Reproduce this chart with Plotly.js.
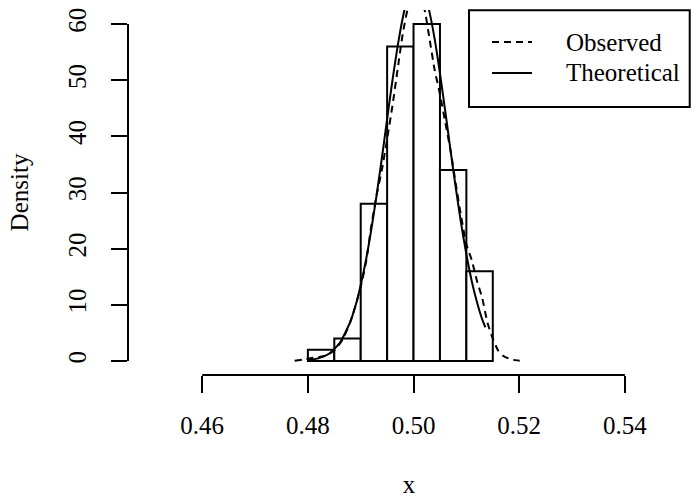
<!DOCTYPE html>
<html>
<head>
<meta charset="utf-8">
<script src="https://cdn.plot.ly/plotly-3.0.1.min.js"></script>
<style>
html, body { margin: 0; padding: 0; background: #ffffff; }
#chart { width: 696px; height: 498px; }
</style>
</head>
<body>
<div id="chart"></div>
<script>
// Histogram (density scale)
const binEdges = [0.480, 0.485, 0.490, 0.495, 0.500, 0.505, 0.510, 0.515];
const binDensity = [2, 4, 28, 56, 60, 34, 16];

// Observed (kernel density estimate)
const obsX = [0.4775, 0.4790, 0.4805, 0.4820, 0.4835, 0.4850, 0.4865, 0.4880, 0.4890, 0.4900,
              0.4910, 0.4920, 0.4930, 0.4940, 0.4950, 0.4960, 0.4970, 0.4980, 0.4990, 0.5000,
              0.5010, 0.5020, 0.5030, 0.5040, 0.5050, 0.5060, 0.5070, 0.5080, 0.5090, 0.5100,
              0.5110, 0.5120, 0.5130, 0.5140, 0.5150, 0.5160, 0.5170, 0.5180, 0.5190, 0.5201];
const obsY = [0.05, 0.25, 0.5, 0.7, 1.0, 1.9, 3.7, 6.9, 9.8, 13.2,
              17.6, 24.0, 29.5, 34.0, 39.5, 45.4, 52.0, 58.5, 63.0, 64.8,
              64.5, 62.8, 57.5, 51.8, 47.5, 42.5, 37.5, 31.5, 25.8, 20.8,
              18.0, 14.3, 11.2, 6.8, 4.0, 1.9, 0.9, 0.45, 0.2, 0.05];

// Theoretical (normal) density
const theoX = [0.4800, 0.4820, 0.4840, 0.4860, 0.4880, 0.4890, 0.4900, 0.4910, 0.4920, 0.4930,
               0.4940, 0.4950, 0.4960, 0.4970, 0.4980, 0.4990, 0.5000, 0.5010, 0.5020, 0.5030,
               0.5040, 0.5050, 0.5060, 0.5070, 0.5080, 0.5090, 0.5100, 0.5110, 0.5120, 0.5130, 0.5136];
const theoY = [0.15, 0.47, 1.29, 3.17, 6.91, 9.78, 13.5, 18.0, 23.4, 29.5,
               36.1, 43.1, 49.9, 56.1, 61.3, 65.2, 67.3, 67.4, 65.7, 62.2,
               57.3, 51.2, 44.5, 37.5, 30.8, 24.5, 19.0, 14.3, 10.5, 7.4, 6.0];

const xTickVals = [0.46, 0.48, 0.50, 0.52, 0.54];
const xTickText = ['0.46', '0.48', '0.50', '0.52', '0.54'];
const yTickVals = [0, 10, 20, 30, 40, 50, 60];
const yTickText = ['0', '10', '20', '30', '40', '50', '60'];

const seriesNames = ['Observed', 'Theoretical'];

const xRange = [0.44595, 0.55233];
const yRange = [-2.49, 62.49];
const FONT = 'Liberation Serif, Times New Roman, serif';
const LW = 2;
const DASH = '7px,5px';

const mids = [], widths = [];
for (let i = 0; i < binDensity.length; i++) {
  mids.push((binEdges[i] + binEdges[i + 1]) / 2);
  widths.push(binEdges[i + 1] - binEdges[i]);
}

const traces = [
  {
    type: 'bar', x: mids, y: binDensity, width: widths,
    marker: { color: '#ffffff', line: { color: '#000000', width: LW } },
    showlegend: false, hoverinfo: 'skip'
  },
  {
    type: 'scatter', mode: 'lines', x: obsX, y: obsY, name: seriesNames[0],
    line: { color: '#000000', width: LW, dash: DASH, shape: 'spline', smoothing: 0.6 },
    showlegend: false
  },
  {
    type: 'scatter', mode: 'lines', x: theoX, y: theoY, name: seriesNames[1],
    line: { color: '#000000', width: LW, shape: 'spline', smoothing: 0.6 },
    showlegend: false
  }
];

function px(v) { return (v - xRange[0]) / (xRange[1] - xRange[0]); }
function py(v) { return (v - yRange[0]) / (yRange[1] - yRange[0]); }

const shapes = [
  // R-style axis lines spanning first to last tick
  { type: 'line', xref: 'paper', yref: 'paper',
    x0: px(xTickVals[0]), x1: px(xTickVals[xTickVals.length - 1]), y0: 0, y1: 0,
    line: { color: '#000000', width: LW } },
  { type: 'line', xref: 'paper', yref: 'paper',
    x0: 0, x1: 0, y0: py(yTickVals[0]), y1: py(yTickVals[yTickVals.length - 1]),
    line: { color: '#000000', width: LW } },
  // legend box
  { type: 'rect', xref: 'paper', yref: 'paper', x0: 0.6068, x1: 0.9995, y0: 0.7342, y1: 0.9995,
    fillcolor: '#ffffff', line: { color: '#000000', width: LW } },
  { type: 'line', xref: 'paper', yref: 'paper', x0: 0.6477, x1: 0.7189, y0: 0.9123, y1: 0.9123,
    line: { color: '#000000', width: LW, dash: DASH } },
  { type: 'line', xref: 'paper', yref: 'paper', x0: 0.6477, x1: 0.7189, y0: 0.8274, y1: 0.8274,
    line: { color: '#000000', width: LW } }
];

const annotations = [
  { xref: 'paper', yref: 'paper', x: 0.7760, y: 0.9123, xanchor: 'left', yanchor: 'middle',
    text: seriesNames[0], showarrow: false, font: { family: FONT, size: 25, color: '#000000' } },
  { xref: 'paper', yref: 'paper', x: 0.7760, y: 0.8274, xanchor: 'left', yanchor: 'middle',
    text: seriesNames[1], showarrow: false, font: { family: FONT, size: 25, color: '#000000' } }
];

const layout = {
  width: 696, height: 498,
  margin: { l: 128, r: 6, t: 10, b: 123, pad: 0 },
  paper_bgcolor: '#ffffff', plot_bgcolor: '#ffffff',
  font: { family: FONT, size: 25, color: '#000000' },
  showlegend: false,
  bargap: 0,
  xaxis: {
    range: xRange, autorange: false, showgrid: false, zeroline: false, showline: false,
    ticks: 'outside', ticklen: 17, tickwidth: LW, tickcolor: '#000000',
    tickmode: 'array', tickvals: xTickVals, ticktext: xTickText,
    tickfont: { family: FONT, size: 25, color: '#000000' },
    ticklabelstandoff: 11,
    title: { text: 'x', standoff: 49, font: { family: FONT, size: 25, color: '#000000' } }
  },
  yaxis: {
    range: yRange, autorange: false, showgrid: false, zeroline: false, showline: false,
    ticks: 'outside', ticklen: 16, tickwidth: LW, tickcolor: '#000000',
    tickmode: 'array', tickvals: yTickVals, ticktext: yTickText, tickangle: -90,
    tickfont: { family: FONT, size: 25, color: '#000000' },
    ticklabelstandoff: 15,
    title: { text: 'Density', standoff: 28, font: { family: FONT, size: 25, color: '#000000' } }
  },
  shapes: shapes,
  annotations: annotations
};

Plotly.newPlot('chart', traces, layout, { displayModeBar: false, staticPlot: true });
</script>
</body>
</html>
